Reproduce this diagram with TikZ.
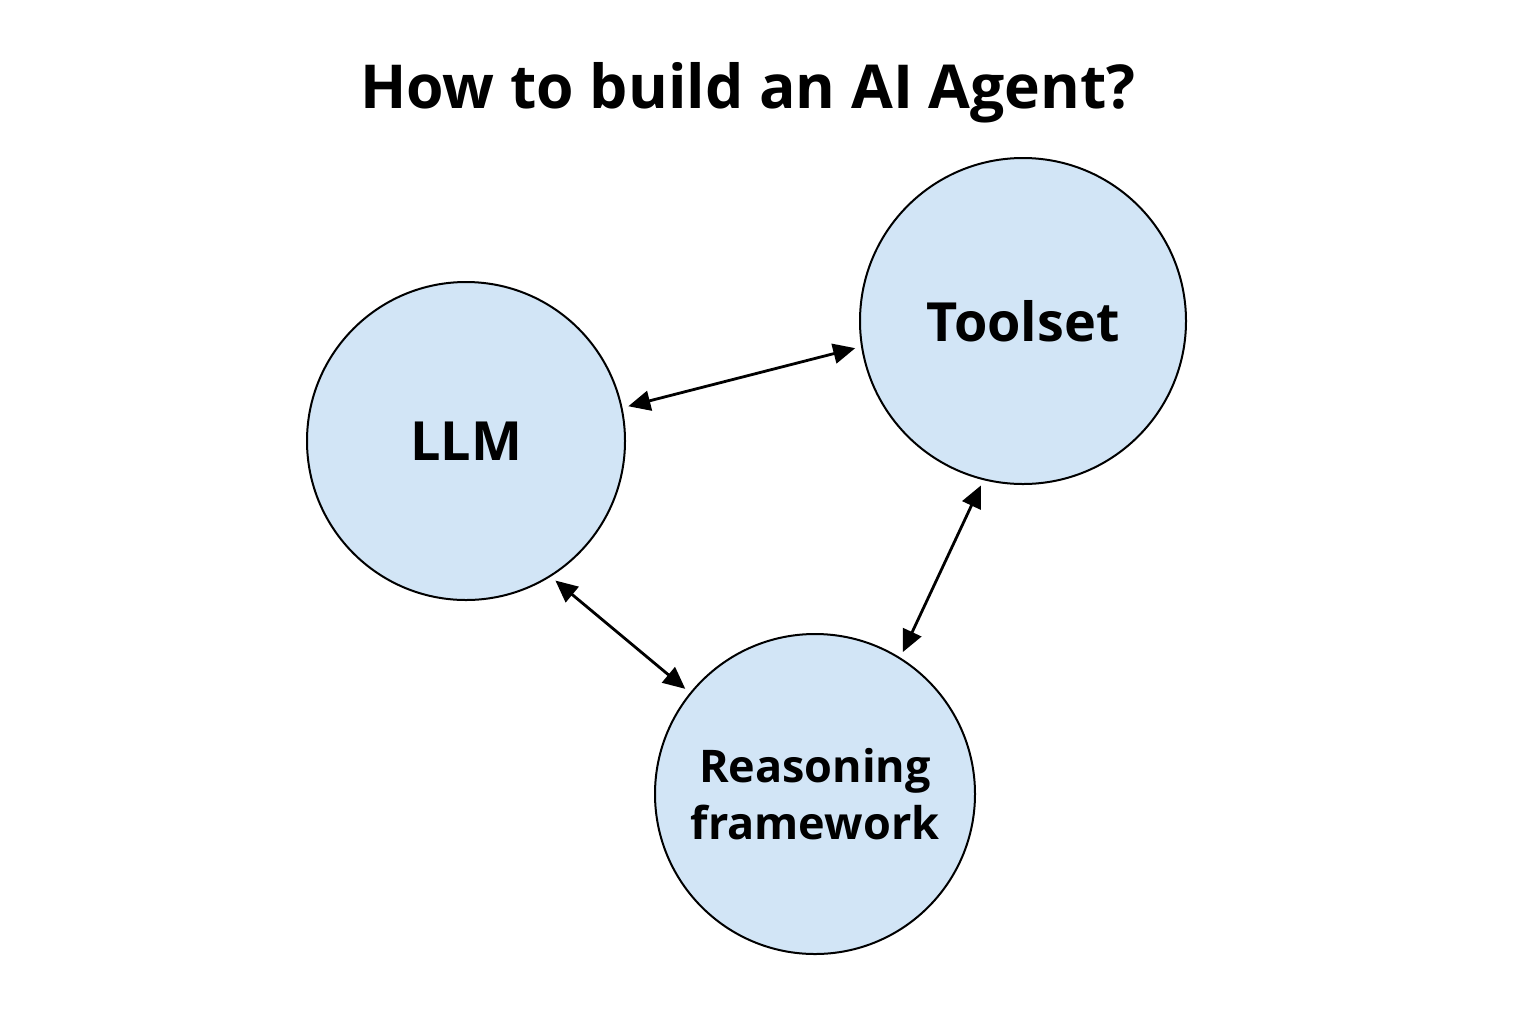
\documentclass[tikz,border=0pt]{standalone}
\usepackage{fontspec}
\setmainfont{Open Sans}
\usetikzlibrary{arrows.meta}
\definecolor{nodefill}{HTML}{D2E5F6}
\tikzset{
  agentnode/.style={circle, draw=black, line width=1pt, fill=nodefill, minimum size=#1, inner sep=0pt, align=center, font=\bfseries},
  linkarrow/.style={{Triangle[length=11pt,width=10pt]}-{Triangle[length=11pt,width=10pt]}, line width=1.4pt, shorten <=3pt, shorten >=3pt}
}
\begin{document}
\begin{tikzpicture}[x=0.5pt,y=-0.5pt]
\path[use as bounding box, fill=white] (0,0) rectangle (1536,1024);
\node[anchor=base, font=\bfseries\fontsize{30.3}{36}\selectfont] (title) at (748,108) {How to build an AI Agent?};
\node[agentnode=159pt, font=\bfseries\fontsize{27}{32}\selectfont] (llm) at (466,441) {LLM};
\node[agentnode=163pt, font=\bfseries\fontsize{27}{32}\selectfont] (tool) at (1023,321) {Toolset};
\node[agentnode=160pt, font=\bfseries\fontsize{22.5}{28.5}\selectfont] (reason) at (815,794) {Reasoning\\framework};
\draw[linkarrow] (llm.12) -- (tool.-171);
\draw[linkarrow] (tool.-104) -- (reason.58);
\draw[linkarrow] (llm.-58) -- (reason.141);
\end{tikzpicture}
\end{document}
